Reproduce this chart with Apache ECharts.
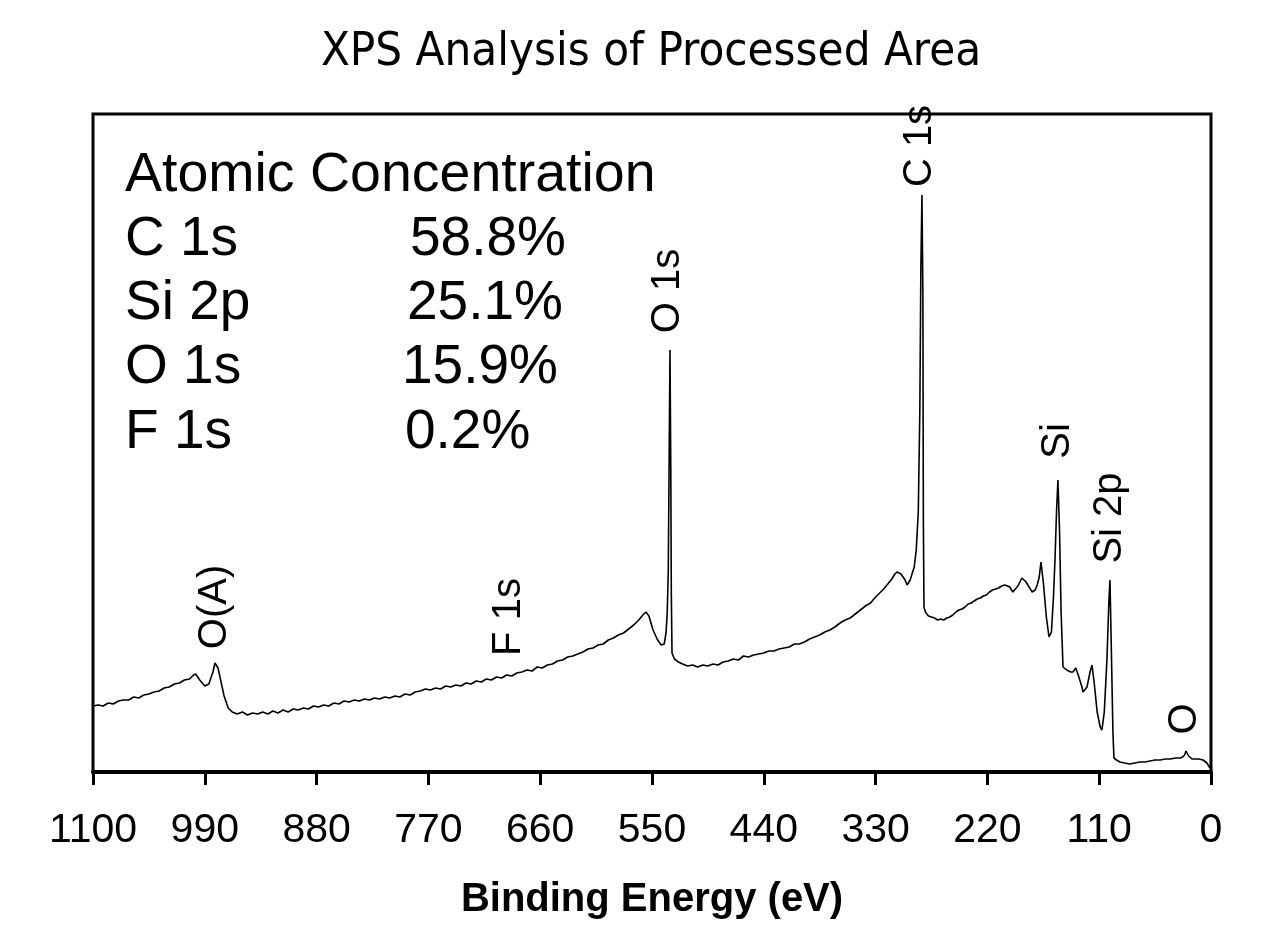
<!DOCTYPE html>
<html>
<head>
<meta charset="utf-8"/>
<title>XPS Analysis of Processed Area</title>
<script src="https://cdn.jsdelivr.net/npm/echarts@6.0.0/dist/echarts.min.js"></script>
<style>
    html, body { margin: 0; padding: 0; background: #fff; }
    #chart { width: 1263px; height: 927px; }
</style>
</head>
<body>
<div id="chart"></div>
<script>
// survey spectrum: [binding energy (eV), intensity (arb. units)]
// 1100 - 960 eV, O KLL auger
var augerPart = [
    [1100, 66], [1095, 67], [1090, 66], [1085, 69], [1080, 68], [1075, 71], [1070, 72], [1065, 72], [1060, 75],
    [1055, 74], [1050, 77], [1045, 78], [1040, 80], [1035, 81], [1030, 84], [1025, 85], [1020, 88], [1015, 89],
    [1010, 92], [1005, 93], [1001, 97], [999, 98], [995, 92], [990, 86], [986, 88], [982, 100], [980, 109],
    [977, 104], [974, 90], [971, 76], [967, 64]
];
// 963 - 556 eV, slowly rising background
var backgroundPart = [
    [963, 60], [958, 58], [953, 60], [948, 57], [943, 59], [938, 58], [933, 60], [928, 58], [923, 61], [918, 59],
    [913, 62], [908, 60], [903, 63], [898, 62], [893, 64], [888, 63], [883, 66], [878, 65], [873, 67], [868, 66],
    [863, 69], [858, 68], [853, 71], [848, 70], [843, 72], [838, 71], [833, 73], [828, 72], [823, 74], [818, 73],
    [813, 75], [808, 74], [803, 76], [798, 75], [793, 78], [788, 77], [783, 80], [778, 81], [773, 83], [768, 82],
    [763, 84], [758, 83], [753, 86], [748, 85], [743, 87], [738, 86], [733, 89], [728, 88], [723, 91], [718, 90],
    [713, 93], [708, 92], [703, 95], [698, 94], [693, 97], [688, 96], [683, 99], [678, 100], [673, 102], [668, 101],
    [663, 105], [658, 104], [653, 107], [648, 108], [643, 111], [638, 112], [633, 115], [628, 116], [623, 118],
    [618, 120], [613, 123], [608, 124], [603, 127], [598, 128], [593, 132], [588, 134], [583, 137], [578, 139],
    [573, 143], [568, 147], [563, 152], [559, 157], [556, 160]
];
// 553 - 528 eV, O 1s
var oxygenPart = [
    [553, 156], [549, 142], [545, 133], [541, 127], [538, 128], [536.2, 139], [535, 160], [534, 200], [533, 330],
    [532.3, 422], [531.5, 300], [531, 180], [530.3, 119], [528, 113]
];
// 524 - 282 eV, background and C 1s
var carbonPart = [
    [524, 110], [520, 108], [515, 106], [510, 107], [505, 105], [500, 107], [495, 106], [490, 108], [485, 107],
    [480, 110], [475, 111], [470, 113], [465, 112], [460, 116], [455, 115], [450, 117], [445, 118], [440, 119],
    [435, 121], [430, 121], [425, 123], [420, 124], [415, 125], [410, 128], [405, 128], [400, 130], [395, 133],
    [390, 135], [385, 137], [380, 140], [375, 142], [370, 145], [365, 149], [360, 152], [355, 154], [350, 158],
    [345, 162], [340, 166], [335, 169], [330, 175], [326, 179], [322, 183], [318, 188], [314, 193], [311, 198],
    [309, 200], [305, 198], [301, 192], [299, 187], [296, 192], [292, 205], [290, 222], [288, 260], [286.5, 360],
    [285.5, 500], [284.4, 577], [283.5, 480], [283, 250], [282.4, 165]
];
// 281 - 89 eV, Si 2s / Si 2p region
var siliconPart = [
    [281, 160], [278, 156], [275, 155], [272, 154], [269, 152], [266, 153], [263, 152], [260, 154], [257, 155],
    [254, 157], [251, 160], [248, 162], [245, 163], [242, 165], [239, 168], [236, 169], [233, 171], [230, 173],
    [227, 174], [224, 176], [221, 177], [218, 180], [215, 182], [212, 183], [209, 184], [206, 186], [203, 187],
    [200, 186], [198, 185], [195, 180], [190, 186], [186, 194], [182, 190], [176, 180], [173, 182], [171, 187],
    [169, 195], [167.3, 210], [165, 190], [162, 155], [159.4, 135], [157, 140], [155, 175], [153.5, 212],
    [152, 260], [150.6, 292], [149, 240], [147.5, 160], [145.6, 105], [142, 102], [138, 100], [135.8, 100],
    [133, 104], [130, 95], [127, 85], [125.9, 80], [122, 85], [119, 100], [117.1, 107], [115, 90], [112, 60],
    [109, 45], [107.3, 42], [105, 60], [103.5, 90], [102.4, 112], [100.5, 170], [99.4, 192], [98, 120],
    [96.5, 40], [95.5, 14], [93, 12]
];
// 90 - 1 eV, flat tail with the small O 2s bump
var tailPart = [
    [89.6, 10], [85, 9], [80, 8], [75, 9], [70, 10], [65, 10], [60, 11], [55, 12], [50, 12], [45, 13], [40, 13],
    [35, 14], [30, 14], [28, 15], [26, 17], [24.6, 21], [22, 16], [18.7, 13], [12, 13], [7.9, 12], [4, 9], [1, 4]
];

// peak annotations: name, energy of label centre, height of label centre
var peakNames  = ['O(A)', 'F 1s', 'O 1s', 'C 1s', 'Si', 'Si 2p', 'O'];
var peakEnergy = [980, 690.7, 534.3, 286.3, 150.6, 99.4, 25.6];
var peakLabelY = [165, 155, 481, 626, 331, 254, 53];

// atomic concentration table
var elements = ['C 1s', 'Si 2p', 'O 1s', 'F 1s'];
var concentration = ['58.8%', '25.1%', '15.9%', '0.2%'];

var energyMin = 0, energyMax = 1100, energyStep = 110;

var chart = echarts.init(document.getElementById('chart'));

var spectrum = [].concat(augerPart, backgroundPart, oxygenPart, carbonPart, siliconPart, tailPart);

var font = 'Liberation Sans, Arial, sans-serif';

var option = {
    animation: false,
    backgroundColor: '#fff',
    grid: {
        left: 93, right: 52, top: 114, bottom: 155,
        show: true, borderColor: '#000', borderWidth: 3, backgroundColor: 'transparent'
    },
    xAxis: {
        type: 'value',
        inverse: true,
        min: energyMin, max: energyMax, interval: energyStep,
        name: 'Binding Energy (eV)',
        nameLocation: 'middle',
        nameGap: 108,
        nameTextStyle: { fontFamily: font, fontWeight: 'bold', fontSize: 40, color: '#000' },
        axisLine: { show: true, lineStyle: { color: '#000', width: 4 } },
        axisTick: { show: true, inside: false, length: 13, lineStyle: { color: '#000', width: 3 } },
        axisLabel: {
            margin: 38, fontFamily: font, fontSize: 41, color: '#000',
            formatter: function (v) { return String(v); }
        },
        splitLine: { show: false }
    },
    yAxis: {
        type: 'value',
        min: 0, max: 658,
        axisLine: { show: false },
        axisTick: { show: false },
        axisLabel: { show: false },
        splitLine: { show: false }
    },
    series: [{
        type: 'line',
        data: spectrum,
        showSymbol: false,
        smooth: false,
        lineStyle: { color: '#000', width: 1.6 }
    }]
};
chart.setOption(option);

var graphics = [];

graphics.push({
    type: 'text', x: 651, y: 53,
    style: {
        text: 'XPS Analysis of Processed Area',
        fontFamily: 'DejaVu Sans Condensed, DejaVu Sans, sans-serif',
        fontSize: 47, fill: '#000', align: 'center', verticalAlign: 'middle'
    }
});

// concentration table
var rowY = [240, 304, 368, 433];
var valueX = [410, 407, 402, 405];
graphics.push({
    type: 'text', x: 125, y: 176,
    style: { text: 'Atomic Concentration', fontFamily: font, fontSize: 55.5, fill: '#000', align: 'left', verticalAlign: 'middle' }
});
for (var r = 0; r < elements.length; r++) {
    graphics.push({
        type: 'text', x: 125, y: rowY[r],
        style: { text: elements[r], fontFamily: font, fontSize: 55, fill: '#000', align: 'left', verticalAlign: 'middle' }
    });
    graphics.push({
        type: 'text', x: valueX[r], y: rowY[r],
        style: { text: concentration[r], fontFamily: font, fontSize: 55, fill: '#000', align: 'left', verticalAlign: 'middle' }
    });
}

// rotated peak labels placed through the axes
for (var p = 0; p < peakNames.length; p++) {
    var pt = chart.convertToPixel({ gridIndex: 0 }, [peakEnergy[p], peakLabelY[p]]);
    graphics.push({
        type: 'text', x: pt[0], y: pt[1], rotation: Math.PI / 2,
        style: { text: peakNames[p], fontFamily: font, fontSize: 40, fill: '#000', align: 'center', verticalAlign: 'middle' }
    });
}

chart.setOption({ graphic: graphics });
</script>
</body>
</html>
